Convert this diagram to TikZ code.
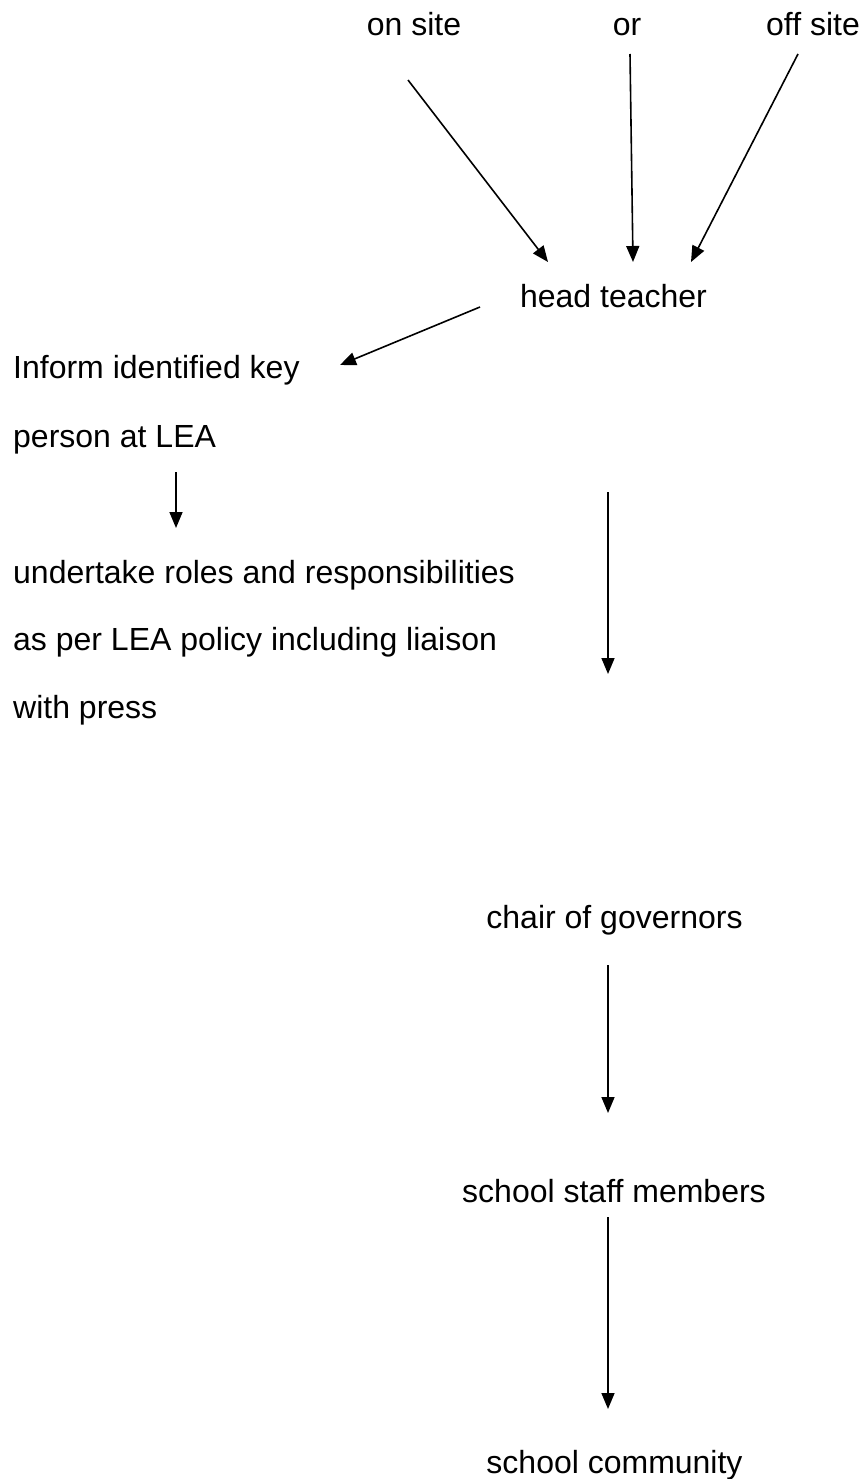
\documentclass[tikz,border=0pt]{standalone}
\usepackage{fontspec}
\setmainfont{Liberation Sans}
\usetikzlibrary{arrows.meta}
\begin{document}
\begin{tikzpicture}[x=1pt,y=-1pt,
  lbl/.style={inner sep=0pt,font=\fontsize{32}{38}\selectfont},
  flow/.style={line width=1.6pt,-{Triangle[length=16pt,width=13pt]}}]
\useasboundingbox (0,0) rectangle (864,1479);
% texts
\node[lbl,anchor=base] (onsite) at (414,36) {on site};
\node[lbl,anchor=base] (or) at (627,36) {or};
\node[lbl,anchor=base] (offsite) at (813,36) {off site};
\node[lbl,anchor=base] (head) at (613.5,307) {head teacher};
\node[lbl,anchor=base west] (inform1) at (13,378) {Inform identified key};
\node[lbl,anchor=base west] (inform2) at (13,447) {person at LEA};
\node[lbl,anchor=base west] (roles1) at (13,583) {undertake roles and responsibilities};
\node[lbl,anchor=base west] (roles2) at (13,650) {as per LEA policy including liaison};
\node[lbl,anchor=base west] (roles3) at (13,718) {with press};
\node[lbl,anchor=base] (chair) at (614.5,928) {chair of governors};
\node[lbl,anchor=base] (staff) at (614,1202) {school staff members};
\node[lbl,anchor=base] (community) at (614.5,1473) {school community};
% connector ends
\coordinate (a1s) at (408,80);   \coordinate (a1e) at (548,262);
\coordinate (a2s) at (630,54);   \coordinate (a2e) at (633,262);
\coordinate (a3s) at (798,54);   \coordinate (a3e) at (691,262);
\coordinate (a4s) at (480,307);  \coordinate (a4e) at (340,365);
\coordinate (a5s) at (176,472);  \coordinate (a5e) at (176,528);
\coordinate (a6s) at (608,492);  \coordinate (a6e) at (608,674);
\coordinate (a7s) at (608,965);  \coordinate (a7e) at (608,1113);
\coordinate (a8s) at (608,1217); \coordinate (a8e) at (608,1409);
% connectors
\draw[flow] (a1s) -- (a1e);
\draw[flow] (a2s) -- (a2e);
\draw[flow] (a3s) -- (a3e);
\draw[flow] (a4s) -- (a4e);
\draw[flow] (a5s) -- (a5e);
\draw[flow] (a6s) -- (a6e);
\draw[flow] (a7s) -- (a7e);
\draw[flow] (a8s) -- (a8e);
\end{tikzpicture}
\end{document}
